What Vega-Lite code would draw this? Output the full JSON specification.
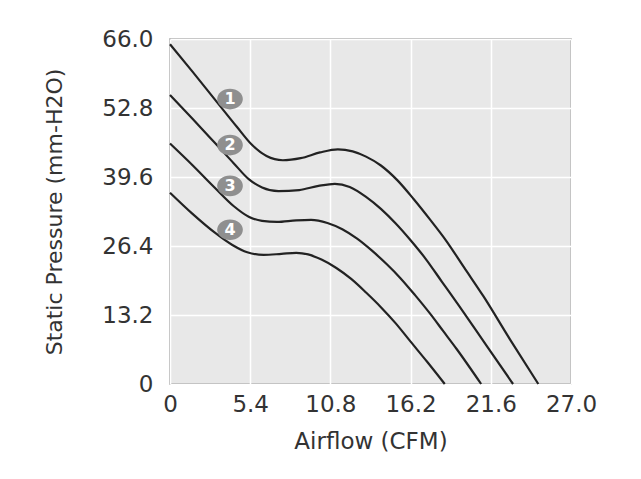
{
  "$schema": "https://vega.github.io/schema/vega-lite/v6.json",
  "autosize": {"type": "none"},
  "padding": {"left": 170, "top": 39, "right": 70, "bottom": 95},
  "width": 401,
  "height": 345,
  "background": "white",
  "config": {
    "view": {"fill": "#e8e8e8", "stroke": "#9e9e9e", "strokeWidth": 1.5},
    "axis": {
      "grid": true, "gridColor": "#ffffff", "gridWidth": 1.5, "gridOpacity": 1,
      "domain": false, "ticks": false,
      "labelFont": "DejaVu Sans", "labelFontSize": 23, "labelColor": "#333333",
      "titleFont": "DejaVu Sans", "titleFontWeight": "normal", "titleColor": "#333333"
    }
  },
  "datasets": {
    "curves": [
      {"series": "1", "airflow": 0, "pressure": 65.0},
      {"series": "1", "airflow": 1.5, "pressure": 59.8},
      {"series": "1", "airflow": 3.0, "pressure": 54.5},
      {"series": "1", "airflow": 4.5, "pressure": 49.2},
      {"series": "1", "airflow": 5.5, "pressure": 45.8},
      {"series": "1", "airflow": 6.5, "pressure": 43.6},
      {"series": "1", "airflow": 7.6, "pressure": 42.8},
      {"series": "1", "airflow": 8.8, "pressure": 43.2},
      {"series": "1", "airflow": 10.1, "pressure": 44.3},
      {"series": "1", "airflow": 11.3, "pressure": 44.9},
      {"series": "1", "airflow": 12.3, "pressure": 44.5},
      {"series": "1", "airflow": 13.2, "pressure": 43.5},
      {"series": "1", "airflow": 14.2, "pressure": 41.8},
      {"series": "1", "airflow": 15.3, "pressure": 39.0},
      {"series": "1", "airflow": 16.4, "pressure": 35.4},
      {"series": "1", "airflow": 17.5, "pressure": 31.5},
      {"series": "1", "airflow": 18.6, "pressure": 27.4},
      {"series": "1", "airflow": 19.8, "pressure": 22.3},
      {"series": "1", "airflow": 21.1, "pressure": 16.8},
      {"series": "1", "airflow": 22.9, "pressure": 8.5},
      {"series": "1", "airflow": 24.8, "pressure": 0},

      {"series": "2", "airflow": 0, "pressure": 55.3},
      {"series": "2", "airflow": 1.5, "pressure": 50.8},
      {"series": "2", "airflow": 3.0, "pressure": 46.2},
      {"series": "2", "airflow": 4.3, "pressure": 42.2},
      {"series": "2", "airflow": 5.3, "pressure": 39.2},
      {"series": "2", "airflow": 6.2, "pressure": 37.6},
      {"series": "2", "airflow": 7.3, "pressure": 36.9},
      {"series": "2", "airflow": 8.7, "pressure": 37.1},
      {"series": "2", "airflow": 10.0, "pressure": 37.9},
      {"series": "2", "airflow": 11.1, "pressure": 38.3},
      {"series": "2", "airflow": 12.1, "pressure": 37.7},
      {"series": "2", "airflow": 13.2, "pressure": 35.8},
      {"series": "2", "airflow": 14.2, "pressure": 33.5},
      {"series": "2", "airflow": 15.2, "pressure": 30.7},
      {"series": "2", "airflow": 16.2, "pressure": 27.5},
      {"series": "2", "airflow": 17.2, "pressure": 24.0},
      {"series": "2", "airflow": 18.3, "pressure": 19.6},
      {"series": "2", "airflow": 19.5, "pressure": 14.8},
      {"series": "2", "airflow": 21.3, "pressure": 7.4},
      {"series": "2", "airflow": 23.1, "pressure": 0},

      {"series": "3", "airflow": 0, "pressure": 46.0},
      {"series": "3", "airflow": 1.5, "pressure": 41.9},
      {"series": "3", "airflow": 3.0, "pressure": 37.6},
      {"series": "3", "airflow": 4.3, "pressure": 34.0},
      {"series": "3", "airflow": 5.3, "pressure": 32.0},
      {"series": "3", "airflow": 6.2, "pressure": 31.2},
      {"series": "3", "airflow": 7.2, "pressure": 31.0},
      {"series": "3", "airflow": 8.5, "pressure": 31.3},
      {"series": "3", "airflow": 9.5, "pressure": 31.4},
      {"series": "3", "airflow": 10.6, "pressure": 30.8},
      {"series": "3", "airflow": 11.6, "pressure": 29.6},
      {"series": "3", "airflow": 12.6, "pressure": 27.8},
      {"series": "3", "airflow": 13.6, "pressure": 25.5},
      {"series": "3", "airflow": 14.6, "pressure": 22.9},
      {"series": "3", "airflow": 15.5, "pressure": 20.3},
      {"series": "3", "airflow": 16.5, "pressure": 17.0},
      {"series": "3", "airflow": 17.5, "pressure": 13.5},
      {"series": "3", "airflow": 18.4, "pressure": 10.1},
      {"series": "3", "airflow": 19.3, "pressure": 6.7},
      {"series": "3", "airflow": 20.95, "pressure": 0},

      {"series": "4", "airflow": 0, "pressure": 36.6},
      {"series": "4", "airflow": 1.5, "pressure": 32.6},
      {"series": "4", "airflow": 3.0, "pressure": 29.0},
      {"series": "4", "airflow": 4.2, "pressure": 26.6},
      {"series": "4", "airflow": 5.2, "pressure": 25.2},
      {"series": "4", "airflow": 6.3, "pressure": 24.7},
      {"series": "4", "airflow": 7.5, "pressure": 24.9},
      {"series": "4", "airflow": 8.5, "pressure": 25.1},
      {"series": "4", "airflow": 9.3, "pressure": 24.8},
      {"series": "4", "airflow": 10.2, "pressure": 23.8},
      {"series": "4", "airflow": 11.2, "pressure": 22.2},
      {"series": "4", "airflow": 12.2, "pressure": 20.1},
      {"series": "4", "airflow": 13.2, "pressure": 17.5},
      {"series": "4", "airflow": 14.2, "pressure": 14.7},
      {"series": "4", "airflow": 15.2, "pressure": 11.6},
      {"series": "4", "airflow": 16.2, "pressure": 8.1},
      {"series": "4", "airflow": 17.3, "pressure": 4.3},
      {"series": "4", "airflow": 18.5, "pressure": 0}
    ],
    "markers": [
      {"label": "1", "airflow": 4.04, "pressure": 54.5},
      {"label": "2", "airflow": 4.04, "pressure": 45.7},
      {"label": "3", "airflow": 4.04, "pressure": 37.9},
      {"label": "4", "airflow": 4.04, "pressure": 29.5}
    ]
  },
  "layer": [
    {
      "data": {"name": "curves"},
      "mark": {"type": "line", "interpolate": "monotone", "color": "#222222", "strokeWidth": 2.2},
      "encoding": {
        "x": {
          "field": "airflow", "type": "quantitative",
          "scale": {"domain": [0, 27], "nice": false},
          "axis": {
            "title": "Airflow (CFM)", "titleFontSize": 23,
            "values": [0, 5.4, 10.8, 16.2, 21.6, 27],
            "labelExpr": "datum.value == 0 ? '0' : format(datum.value, '.1f')",
            "labelFlush": false, "labelOverlap": false,
            "labelPadding": 9, "titlePadding": 14
          }
        },
        "y": {
          "field": "pressure", "type": "quantitative",
          "scale": {"domain": [0, 66], "nice": false},
          "axis": {
            "title": "Static Pressure (mm-H2O)", "titleFontSize": 22,
            "values": [0, 13.2, 26.4, 39.6, 52.8, 66],
            "labelExpr": "datum.value == 0 ? '0' : format(datum.value, '.1f')",
            "labelFlush": false, "labelOverlap": false,
            "labelPadding": 17, "titlePadding": 35
          }
        },
        "detail": {"field": "series", "type": "nominal"}
      }
    },
    {
      "data": {"name": "markers"},
      "mark": {
        "type": "point", "filled": true, "color": "#8f8f8f", "opacity": 1,
        "shape": "M-1,0A1,0.8,0,1,0,1,0A1,0.8,0,1,0,-1,0Z", "size": 660
      },
      "encoding": {
        "x": {"field": "airflow", "type": "quantitative"},
        "y": {"field": "pressure", "type": "quantitative"}
      }
    },
    {
      "data": {"name": "markers"},
      "mark": {
        "type": "text", "color": "#ffffff", "font": "DejaVu Sans", "fontWeight": "bold",
        "fontSize": 16, "align": "center", "baseline": "middle"
      },
      "encoding": {
        "x": {"field": "airflow", "type": "quantitative"},
        "y": {"field": "pressure", "type": "quantitative"},
        "text": {"field": "label", "type": "nominal"}
      }
    }
  ]
}
